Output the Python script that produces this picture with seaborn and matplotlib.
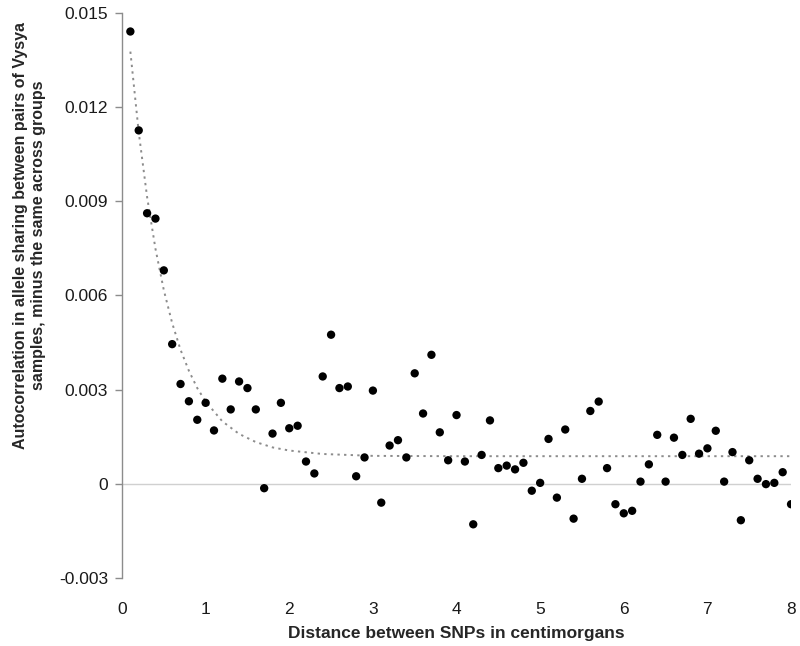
import matplotlib
matplotlib.use('Agg')
import matplotlib.pyplot as plt
import seaborn as sns

sns.set_style('white')
plt.rcParams['font.family'] = ['Liberation Sans', 'DejaVu Sans']

# distance between SNPs (cM), 0.1 .. 8.0
distance = [round(0.1 * i, 1) for i in range(1, 81)]

# autocorrelation values
autocorr = [
    0.01441, 0.01126, 0.00862, 0.00845, 0.00680,
    0.00445, 0.00318, 0.00263, 0.00204, 0.00258,
    0.00170, 0.00335, 0.00237, 0.00326, 0.00305,
    0.00237, -0.00014, 0.00160, 0.00258, 0.00177,
    0.00185, 0.00071, 0.00033, 0.00342, 0.00475,
    0.00305, 0.00310, 0.00024, 0.00084, 0.00297,
    -0.00060, 0.00122, 0.00139, 0.00084, 0.00352,
    0.00224, 0.00411, 0.00164, 0.00075, 0.00219,
    0.00071, -0.00129, 0.00092, 0.00202, 0.00050,
    0.00058, 0.00046, 0.00067, -0.00022, 0.00003,
    0.00143, -0.00044, 0.00173, -0.00111, 0.00016,
    0.00232, 0.00262, 0.00050, -0.00065, -0.00094,
    -0.00086, 0.00007, 0.00062, 0.00156, 0.00007,
    0.00147, 0.00092, 0.00207, 0.00096, 0.00113,
    0.00169, 0.00007, 0.00101, -0.00116, 0.00075,
    0.00016, -0.00001, 0.00003, 0.00037, -0.00065,
]

# dotted fitted curve
fit_x = [0.1, 0.2, 0.3, 0.4, 0.5, 0.6, 0.7, 0.8, 0.9, 1.0, 1.2, 1.4,
         1.6, 1.8, 2.0, 2.4, 3.0, 4.0, 5.0, 6.0, 7.0, 8.0]
fit_y = [0.01377, 0.0112, 0.00914, 0.00749, 0.00617, 0.00512, 0.00427,
         0.0036, 0.00305, 0.00262, 0.00199, 0.00159, 0.00133, 0.00116,
         0.00106, 0.00095, 0.00089, 0.00088, 0.00088, 0.00088, 0.00088,
         0.00088]

yticks = [-0.003, 0, 0.003, 0.006, 0.009, 0.012, 0.015]
ytick_labels = ['-0.003', '0', '0.003', '0.006', '0.009', '0.012', '0.015']

fig = plt.figure(figsize=(8, 6.46), dpi=100)
ax = fig.add_axes([0.1525, 0.1053, 0.8363, 0.8746])

ax.axhline(0, color='#d0d0d0', lw=1, zorder=0)
sns.lineplot(x=fit_x, y=fit_y, ax=ax, color='#8c8c8c', lw=1.4,
             linestyle=(0, (1.2, 2.2)), zorder=1)
sns.scatterplot(x=distance, y=autocorr, ax=ax, color='black', s=36,
                edgecolor='none', zorder=2)

ax.set_xlim(0, 8)
ax.set_ylim(-0.003, 0.015)
ax.set_xticks(range(0, 9))
ax.set_yticks(yticks)
ax.set_yticklabels(ytick_labels)

for side in ['top', 'right', 'bottom']:
    ax.spines[side].set_visible(False)
ax.spines['left'].set_color('#8c8c8c')
ax.spines['left'].set_linewidth(1)

ax.tick_params(axis='y', left=True, length=5, width=1, color='#8c8c8c',
               pad=5, labelsize=12.5, labelcolor='#1a1a1a')
ax.tick_params(axis='x', bottom=False, pad=13.5, labelsize=12.5,
               labelcolor='#1a1a1a')

ax.set_xlabel('Distance between SNPs in centimorgans', fontsize=12.5,
              fontweight='bold', labelpad=7)
ax.set_ylabel('Autocorrelation in allele sharing between pairs of Vysya\n'
              'samples, minus the same across groups',
              fontsize=11.5, fontweight='bold', linespacing=1.2)
ax.yaxis.set_label_coords(-0.114, 0.607)

fig.savefig('out.png', dpi=100)
